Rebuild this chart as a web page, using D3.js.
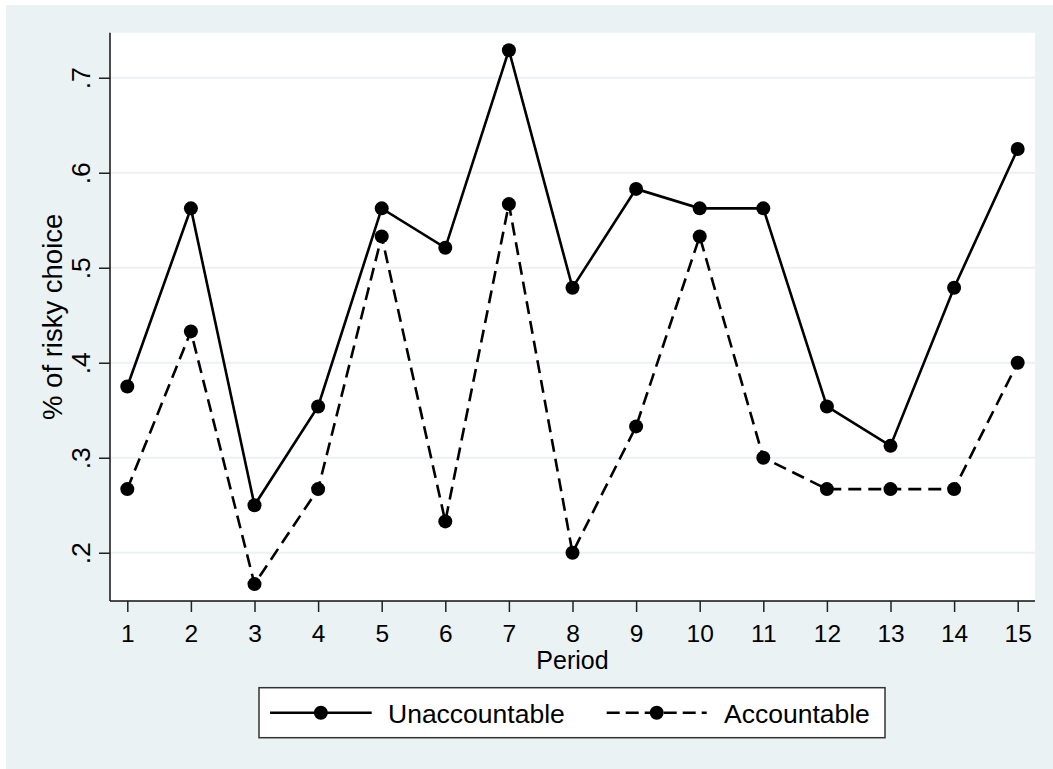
<!DOCTYPE html>
<html>
<head>
<meta charset="utf-8">
<script src="https://cdn.jsdelivr.net/npm/d3@7"></script>
<style>
  html, body { margin: 0; padding: 0; background: #ffffff; }
  svg { display: block; }
  text { font-family: "Liberation Sans", Arial, Helvetica, sans-serif; fill: #000; }
</style>
</head>
<body>
<script>
// ---- data ----
const periods = [1, 2, 3, 4, 5, 6, 7, 8, 9, 10, 11, 12, 13, 14, 15];
const unaccountable = [0.375, 0.5625, 0.25, 0.354, 0.5625, 0.521, 0.729, 0.479, 0.583, 0.5625, 0.5625, 0.354, 0.3125, 0.479, 0.625];
const accountable = [0.267, 0.433, 0.167, 0.267, 0.533, 0.233, 0.567, 0.2, 0.333, 0.533, 0.3, 0.267, 0.267, 0.267, 0.4];
const yTickValues = [0.2, 0.3, 0.4, 0.5, 0.6, 0.7];
const yTickLabels = [".2", ".3", ".4", ".5", ".6", ".7"];
const xTickValues = periods;
const seriesNames = ["Unaccountable", "Accountable"];
const xTitle = "Period";
const yTitle = "% of risky choice";

// ---- layout ----
const W = 1053, H = 769;
const plot = { left: 110, right: 1035, top: 32.7, bottom: 601 };
const bg = "#EAF2F3";

const svg = d3.select("body").append("svg").attr("width", W).attr("height", H);

// outer background
svg.append("rect").attr("x", 0).attr("y", 0).attr("width", W).attr("height", H).attr("fill", "#ffffff");
svg.append("rect").attr("x", 6).attr("y", 5).attr("width", W - 6).attr("height", H - 5).attr("fill", bg);
// plot region
svg.append("rect").attr("x", plot.left).attr("y", plot.top)
  .attr("width", plot.right - plot.left).attr("height", plot.bottom - plot.top).attr("fill", "#ffffff");

const x = d3.scaleLinear().domain([0.728, 15.272]).range([plot.left, plot.right]);
const y = d3.scaleLinear().domain([0.1492, 0.7474]).range([plot.bottom, plot.top]);

// gridlines
svg.append("g").selectAll("line").data(yTickValues).join("line")
  .attr("x1", plot.left).attr("x2", plot.right)
  .attr("y1", d => y(d)).attr("y2", d => y(d))
  .attr("stroke", bg).attr("stroke-width", 2);

// y axis
const yAxis = d3.axisLeft(y).tickValues(yTickValues).tickSize(11)
  .tickFormat((d, i) => yTickLabels[i]).tickPadding(0);
const gy = svg.append("g").attr("transform", `translate(${plot.left},0)`).call(yAxis);
gy.select(".domain").attr("stroke", "#111").attr("stroke-width", 1.5)
  .attr("d", `M0,${plot.top}V${plot.bottom}`);
gy.selectAll(".tick line").attr("stroke", "#222").attr("stroke-width", 1.5);
gy.selectAll(".tick text")
  .attr("x", null).attr("dy", null)
  .attr("text-anchor", "middle")
  .attr("font-size", "26.5px")
  .attr("transform", "translate(-20.5,0) rotate(-90)")
  .attr("y", 0);

// x axis
const xAxis = d3.axisBottom(x).tickValues(xTickValues).tickSize(11).tickFormat(d3.format("d")).tickPadding(0);
const gx = svg.append("g").attr("transform", `translate(0,${plot.bottom})`).call(xAxis);
gx.select(".domain").attr("stroke", "#111").attr("stroke-width", 1.5)
  .attr("d", `M${plot.left},0H${plot.right}`);
gx.selectAll(".tick line").attr("stroke", "#222").attr("stroke-width", 1.5);
gx.selectAll(".tick text").attr("y", 40.5).attr("dy", null).attr("font-size", "24.5px");

// axis titles
svg.append("text").attr("x", (plot.left + plot.right) / 2).attr("y", 668.5)
  .attr("text-anchor", "middle").attr("font-size", "25px").text(xTitle);
svg.append("text")
  .attr("transform", `translate(61.5,${(plot.top + plot.bottom) / 2}) rotate(-90)`)
  .attr("text-anchor", "middle").attr("font-size", "27.5px").text(yTitle);

// series
const series = [
  { name: seriesNames[0], values: unaccountable, dash: null },
  { name: seriesNames[1], values: accountable, dash: "13,7" }
];
const line = d3.line().x(d => x(d[0])).y(d => y(d[1]));
series.forEach(s => {
  const pts = periods.map((p, i) => [p, s.values[i]]);
  svg.append("path").datum(pts).attr("d", line)
    .attr("fill", "none").attr("stroke", "#000").attr("stroke-width", 2.6)
    .attr("stroke-dasharray", s.dash);
  svg.append("g").selectAll("circle").data(pts).join("circle")
    .attr("cx", d => x(d[0])).attr("cy", d => y(d[1])).attr("r", 7).attr("fill", "#000");
});

// legend
const lg = svg.append("g");
lg.append("rect").attr("x", 259).attr("y", 687.7).attr("width", 626).attr("height", 50)
  .attr("fill", "#ffffff").attr("stroke", "#333").attr("stroke-width", 1.5);
const legendItems = [
  { name: seriesNames[0], dash: null, x1: 270, x2: 371.7, text: 388 },
  { name: seriesNames[1], dash: "13,6", x1: 606.7, x2: 706.7, text: 724 }
];
legendItems.forEach(it => {
  lg.append("line").attr("x1", it.x1).attr("x2", it.x2).attr("y1", 712.7).attr("y2", 712.7)
    .attr("stroke", "#000").attr("stroke-width", 2.6).attr("stroke-dasharray", it.dash);
  lg.append("circle").attr("cx", (it.x1 + it.x2) / 2).attr("cy", 712.7).attr("r", 7).attr("fill", "#000");
  lg.append("text").attr("x", it.text).attr("y", 723.3).attr("font-size", "26.5px").text(it.name);
});
</script>
</body>
</html>
